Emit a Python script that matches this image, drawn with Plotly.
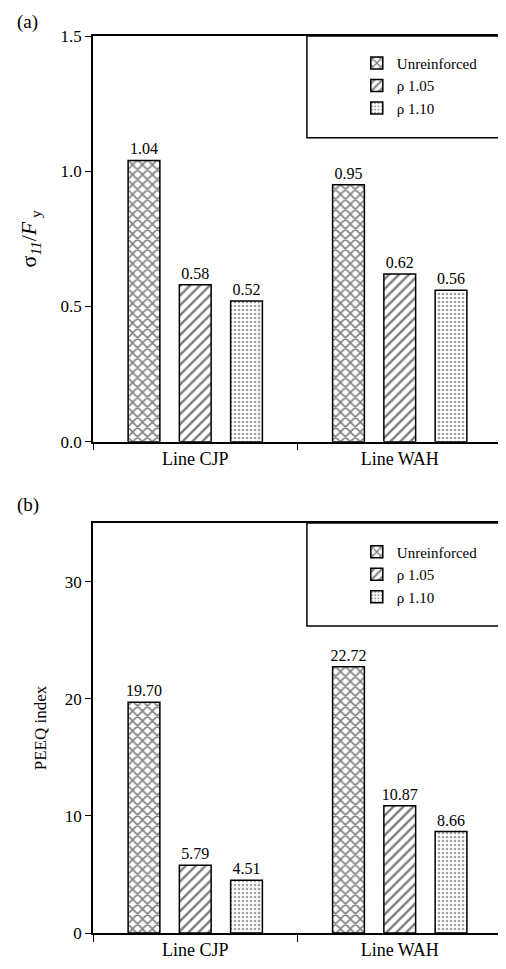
import plotly.graph_objects as go

categories = ["Line CJP", "Line WAH"]
series_names = ["Unreinforced", "ρ 1.05", "ρ 1.10"]
stress_values = {
    "Unreinforced": [1.04, 0.95],
    "ρ 1.05": [0.58, 0.62],
    "ρ 1.10": [0.52, 0.56],
}
peeq_values = {
    "Unreinforced": [19.70, 22.72],
    "ρ 1.05": [5.79, 10.87],
    "ρ 1.10": [4.51, 8.66],
}
stress_ticks = [0.0, 0.5, 1.0, 1.5]
peeq_ticks = [0, 10, 20, 30]

patterns = {
    "Unreinforced": dict(shape="x", size=7, solidity=0.4, fgcolor="black", bgcolor="white"),
    "ρ 1.05": dict(shape="/", size=7, solidity=0.35, fgcolor="black", bgcolor="white"),
    "ρ 1.10": dict(shape=".", size=4, solidity=0.35, fgcolor="#444444", bgcolor="white"),
}

FONT = "Liberation Serif"
fig = go.Figure()

for name in series_names:
    fig.add_trace(go.Bar(
        x=categories, y=stress_values[name], name=name,
        xaxis="x", yaxis="y", legend="legend",
        marker=dict(color="white", pattern=patterns[name], line=dict(color="black", width=1.5)),
        texttemplate="%{y:.2f}", textposition="outside", constraintext="none",
        cliponaxis=False, textfont=dict(family=FONT, size=16, color="black"),
    ))
for name in series_names:
    fig.add_trace(go.Bar(
        x=categories, y=peeq_values[name], name=name,
        xaxis="x2", yaxis="y2", legend="legend2",
        marker=dict(color="white", pattern=patterns[name], line=dict(color="black", width=1.5)),
        texttemplate="%{y:.2f}", textposition="outside", constraintext="none",
        cliponaxis=False, textfont=dict(family=FONT, size=16, color="black"),
    ))

top_dom = [0.5477, 1.0]
bot_dom = [0.0, 0.4571]

xaxis_common = dict(
    showline=True, linecolor="black", linewidth=1.5, mirror=True,
    ticks="outside", tickson="boundaries", ticklen=7, tickwidth=1.2, tickcolor="black",
    tickfont=dict(family=FONT, size=18, color="black"), showgrid=False, domain=[0, 1],
)
yaxis_common = dict(
    showline=True, linecolor="black", linewidth=1.5, mirror=True,
    ticks="outside", ticklen=6, tickwidth=1.2, tickcolor="black",
    tickfont=dict(family=FONT, size=17, color="black"), showgrid=False, zeroline=False,
)

legend_common = dict(
    x=0.645, xanchor="left", bgcolor="rgba(0,0,0,0)", borderwidth=0,
    font=dict(family=FONT, size=15, color="black"), tracegroupgap=0,
    itemwidth=30, traceorder="normal",
)

fig.update_layout(
    width=498, height=961,
    margin=dict(l=85, r=2, t=28, b=36),
    paper_bgcolor="white", plot_bgcolor="white",
    barmode="group", bargap=0.248, bargroupgap=0.38,
    font=dict(family=FONT, color="black"),
    xaxis=dict(**xaxis_common, anchor="y"),
    yaxis=dict(**yaxis_common, domain=top_dom, anchor="x", range=[0, 1.5],
               tickvals=stress_ticks, tickformat=".1f",
               title=dict(text="σ<sub><i>11</i></sub>/<i>F</i><sub> y</sub>",
                          font=dict(family=FONT, size=22, color="black"), standoff=18)),
    xaxis2=dict(**xaxis_common, anchor="y2"),
    yaxis2=dict(**yaxis_common, domain=bot_dom, anchor="x2", range=[0, 35],
                tickvals=peeq_ticks, tickformat="d",
                title=dict(text="PEEQ index", font=dict(family=FONT, size=17, color="black"), standoff=14)),
    legend=dict(**legend_common, y=0.988, yanchor="top"),
    legend2=dict(**legend_common, y=0.4431, yanchor="top"),
    showlegend=True,
    shapes=[
        dict(type="rect", xref="x domain", yref="y domain", x0=0.523, x1=1.0, y0=0.749, y1=1.0,
             line=dict(color="black", width=1.5), fillcolor="rgba(0,0,0,0)"),
        dict(type="rect", xref="x2 domain", yref="y2 domain", x0=0.523, x1=1.0, y0=0.749, y1=1.0,
             line=dict(color="black", width=1.5), fillcolor="rgba(0,0,0,0)"),
    ],
    annotations=[
        dict(text="(a)", xref="paper", yref="paper", x=-0.19, y=1.0 + 27/897, xanchor="left", yanchor="top",
             showarrow=False, font=dict(family=FONT, size=19, color="black")),
        dict(text="(b)", xref="paper", yref="paper", x=-0.19, y=(933 - 505) / 897, xanchor="left", yanchor="middle",
             showarrow=False, font=dict(family=FONT, size=19, color="black")),
    ],
)

fig.write_html("out.html")
